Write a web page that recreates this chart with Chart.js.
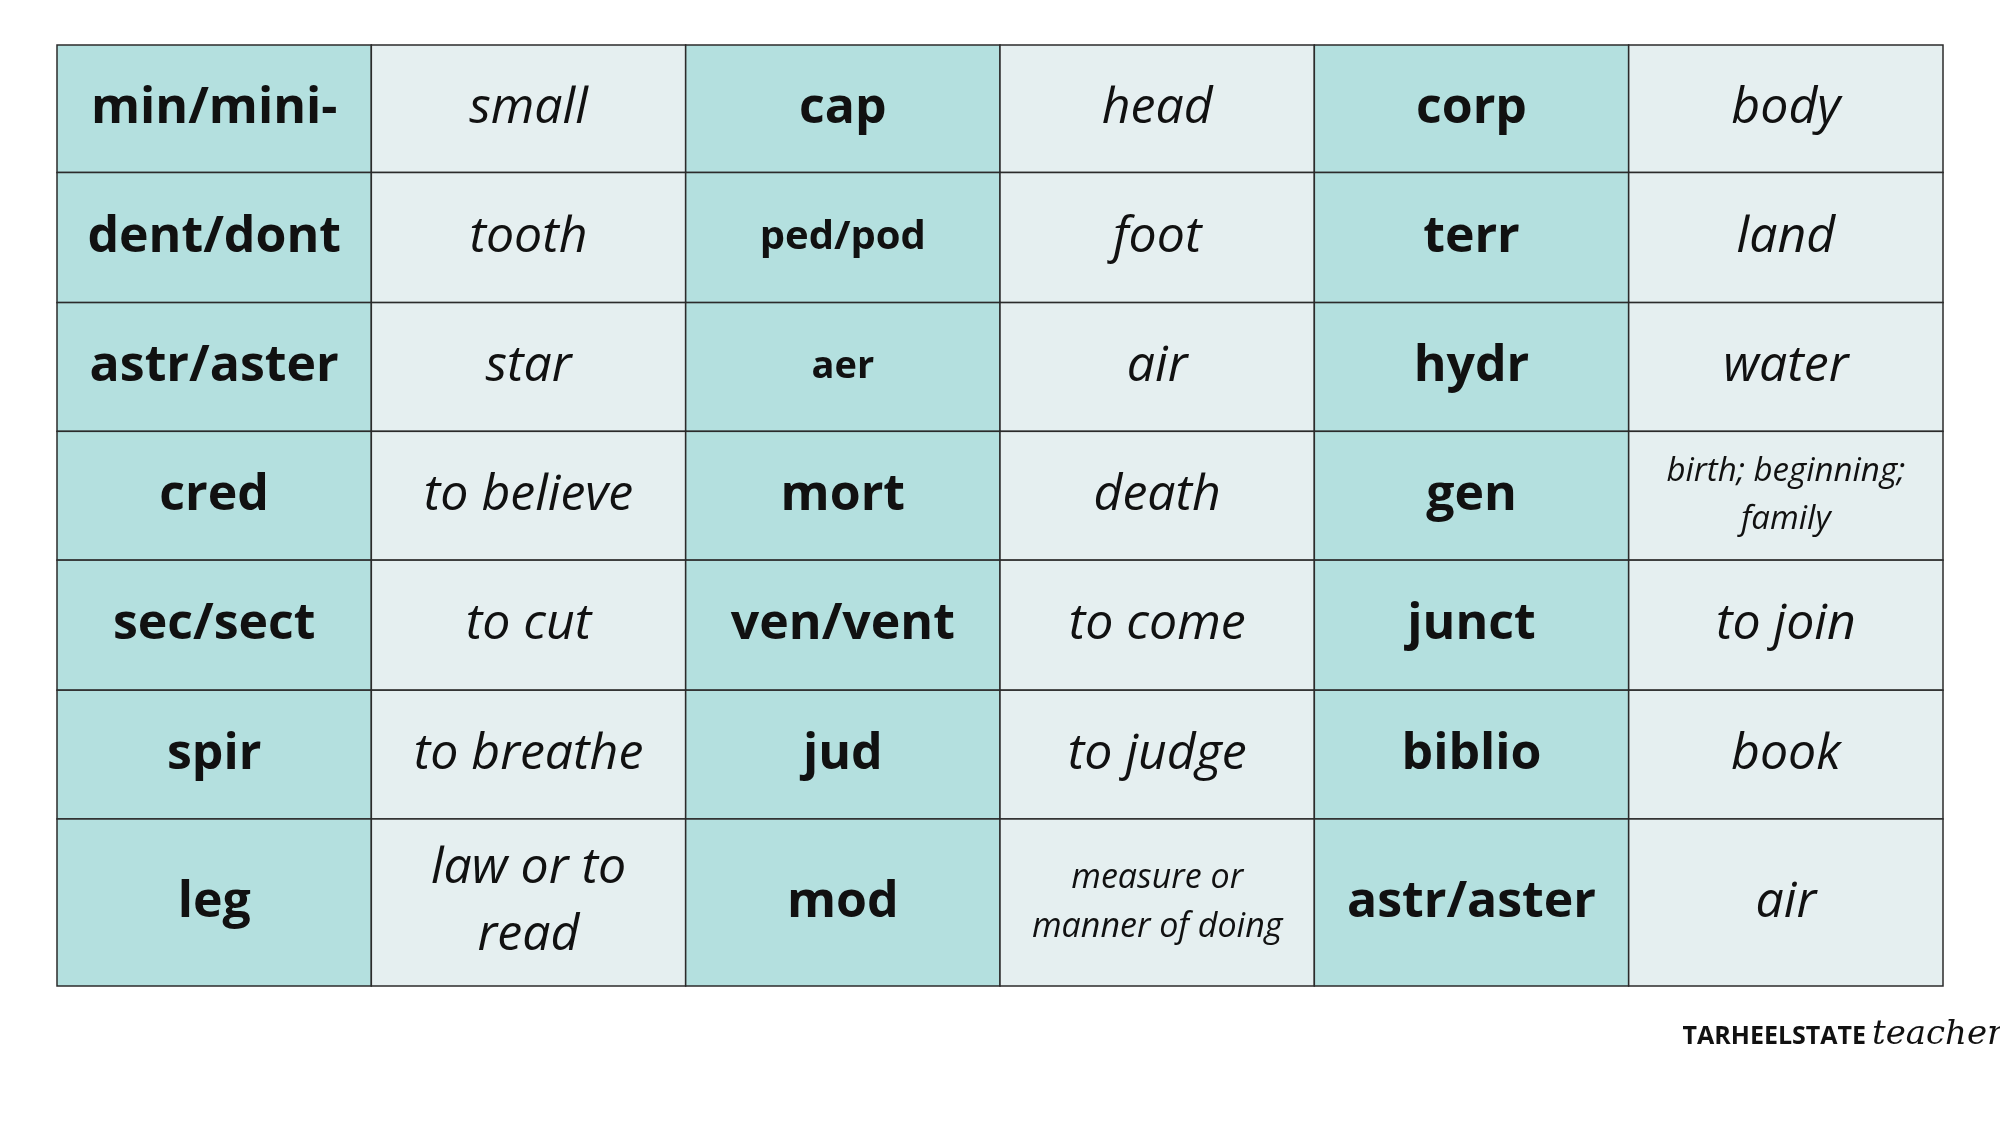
<!DOCTYPE html>
<html>
<head>
<meta charset="utf-8">
<script src="https://cdn.jsdelivr.net/npm/chart.js@4/dist/chart.umd.min.js"></script>
<style>
  body { margin: 0; background: #fff; }
  #wrap { width: 2000px; height: 1125px; }
</style>
</head>
<body>
<div id="wrap"><canvas id="c"></canvas></div>
<script>
// word roots and meanings, row by row (3 pairs per row)
const roots = [
  ["min/mini-", "cap", "corp"],
  ["dent/dont", "ped/pod", "terr"],
  ["astr/aster", "aer", "hydr"],
  ["cred", "mort", "gen"],
  ["sec/sect", "ven/vent", "junct"],
  ["spir", "jud", "biblio"],
  ["leg", "mod", "astr/aster"]
];
const meanings = [
  ["small", "head", "body"],
  ["tooth", "foot", "land"],
  ["star", "air", "water"],
  ["to believe", "death", "birth; beginning;\nfamily"],
  ["to cut", "to come", "to join"],
  ["to breathe", "to judge", "book"],
  ["law or to\nread", "measure or\nmanner of doing", "air"]
];
// row boundaries (rows are not all equal height)
const rowEdges = [0, 100, 202, 303, 404, 506, 607, 738];
// a few cells use smaller type
const smallRoots = { "ped/pod": 40, "aer": 38 };
const smallMeanings = { "birth; beginning;\nfamily": 33, "measure or\nmanner of doing": 34 };

const tablePlugin = {
  id: 'table',
  afterDatasetsDraw(chart) {
    const { ctx, scales: { x, y } } = chart;
    ctx.save();
    for (let r = 0; r < roots.length; r++) {
      const y0 = y.getPixelForValue(rowEdges[r]);
      const y1 = y.getPixelForValue(rowEdges[r + 1]);
      for (let c = 0; c < 6; c++) {
        const x0 = x.getPixelForValue(c);
        const x1 = x.getPixelForValue(c + 1);
        const isRoot = c % 2 === 0;
        const text = isRoot ? roots[r][c / 2] : meanings[r][(c - 1) / 2];
        ctx.fillStyle = isRoot ? '#b4e0df' : '#e5eff0';
        ctx.fillRect(x0, y0, x1 - x0, y1 - y0);
        ctx.strokeStyle = '#2b2b2b';
        ctx.lineWidth = 1.5;
        ctx.strokeRect(x0, y0, x1 - x0, y1 - y0);

        let size = isRoot ? (smallRoots[text] || 50) : (smallMeanings[text] || 50);
        ctx.font = (isRoot ? 'bold ' : 'italic ') + size + 'px "Open Sans", Lato, sans-serif';
        ctx.fillStyle = '#111';
        ctx.textAlign = 'center';
        ctx.textBaseline = 'middle';
        const lines = text.split('\n');
        const lh = size * (size < 40 ? 1.45 : 1.35);
        const cy = (y0 + y1) / 2;
        lines.forEach((ln, i) => {
          ctx.fillText(ln, (x0 + x1) / 2, cy + (i - (lines.length - 1) / 2) * lh);
        });
      }
    }
    // footer logo
    ctx.textBaseline = 'alphabetic';
    ctx.textAlign = 'right';
    ctx.font = 'bold 25px "Open Sans", sans-serif';
    ctx.fillStyle = '#111';
    ctx.fillText('TARHEELSTATE', 1866, 1044);
    ctx.textAlign = 'left';
    ctx.font = 'italic 34px "DejaVu Serif", serif';
    ctx.fillText('teacher', 1872, 1044);
    ctx.restore();
  }
};

new Chart(document.getElementById('c'), {
  type: 'scatter',
  data: { datasets: [{ data: [], pointRadius: 0 }] },
  options: {
    responsive: true,
    maintainAspectRatio: false,
    animation: false,
    layout: { padding: { left: 57, right: 57, top: 45, bottom: 139 } },
    plugins: { legend: { display: false }, tooltip: { enabled: false } },
    scales: {
      x: { type: 'linear', min: 0, max: 6, display: false },
      y: { type: 'linear', min: 0, max: 738, reverse: true, display: false }
    }
  },
  plugins: [tablePlugin]
});
</script>
</body>
</html>
